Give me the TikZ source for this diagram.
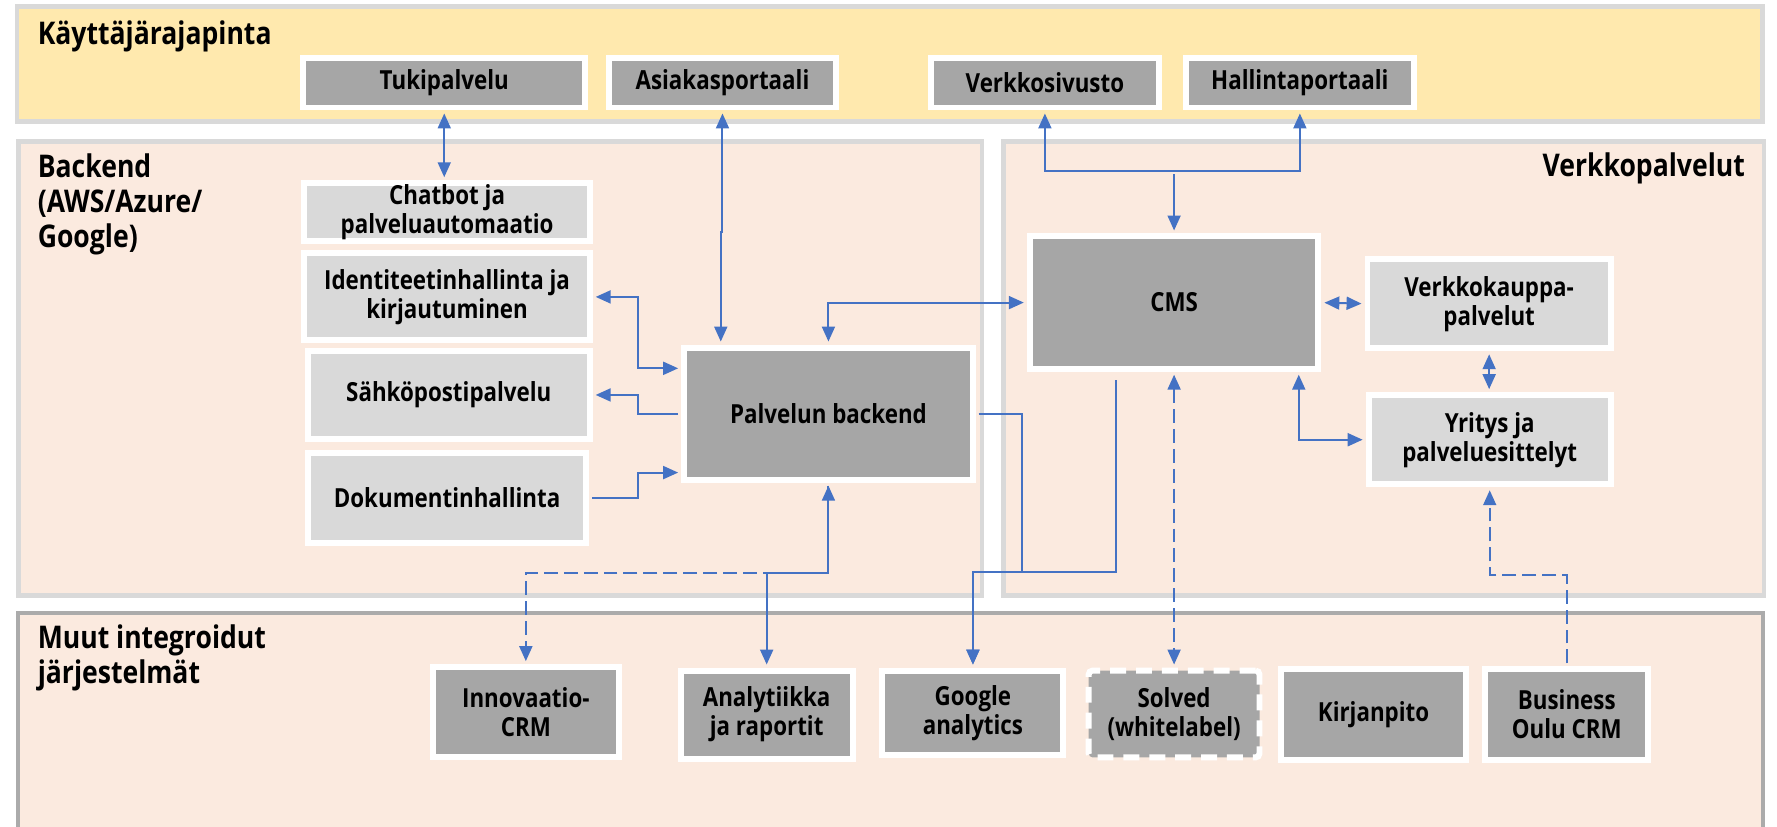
\documentclass[tikz,border=0pt]{standalone}
\usepackage{fontspec}
\setmainfont{Open Sans}[FakeStretch=0.85]
\usetikzlibrary{arrows.meta}
\definecolor{pborder}{HTML}{D9D9D9}
\definecolor{pborderdark}{HTML}{ABABAB}
\definecolor{yel}{HTML}{FFE9AE}
\definecolor{peach}{HTML}{FBEADF}
\definecolor{dgray}{HTML}{A6A6A6}
\definecolor{lgray}{HTML}{D9D9D9}
\definecolor{blu}{HTML}{4472C4}
\newcommand{\boxfont}{\bfseries\fontsize{13.2}{14.6}\selectfont}
\newcommand{\titlefont}{\bfseries\fontsize{15.7}{17.4}\selectfont}
\tikzset{
  panel/.style={draw=pborder, line width=2.5pt},
  box/.style={draw=white, line width=3pt, align=center, font=\boxfont, inner sep=0pt, text=black},
  dbox/.style={box, fill=dgray},
  lbox/.style={box, fill=lgray},
  sz/.style 2 args={minimum width={(#1-5.3)*0.02cm}, minimum height={(#2-5.3)*0.02cm}},
  ttl/.style={font=\titlefont, inner sep=0pt, align=left, text=black},
  conn/.style={draw=blu, line width=1pt, shorten <=1.5pt, shorten >=1.5pt,
    arrows={-}, >={Triangle[length=7.5pt,width=6.5pt]}},
  dconn/.style={conn, dash pattern=on 7pt off 3pt}
}
\begin{document}
\begin{tikzpicture}[x=0.02cm,y=-0.02cm]
\useasboundingbox (0,0) rectangle (1568,729);
% panels
\draw[panel, fill=yel] (15,5.5) rectangle (1555.5,107.5);
\draw[panel, fill=peach] (16,124.5) rectangle (866.5,525.5);
\draw[panel, fill=peach] (885.5,124.5) rectangle (1556.5,525.5);
\draw[draw=pborderdark, line width=2pt, fill=peach] (16,541) rectangle (1556,760);
% titles
\node[ttl, anchor=base west] (t1) at (33,39) {Käyttäjärajapinta};
\node[ttl, anchor=base west] (t2) at (33,218) {Backend\\(AWS/Azure/\\Google)};
\node[ttl, anchor=base east] (t3) at (1540,156) {Verkkopalvelut};
\node[ttl, anchor=base west] (t4) at (33,603) {Muut integroidut\\järjestelmät};
% top boxes
\node[dbox, sz={254}{49}] (tuki) at (392,73) {Tukipalvelu};
\node[dbox, sz={205}{49}] (asiakas) at (637.5,73) {Asiakasportaali};
\node[dbox, sz={206}{49}] (verkko) at (922,73) {Verkkosivusto};
\node[dbox, sz={206}{49}] (hallinta) at (1147,73) {Hallintaportaali};
% backend boxes
\node[lbox, sz={257}{56}] (chatbot) at (394.5,187) {Chatbot ja\\palveluautomaatio};
\node[lbox, sz={257}{82}] (ident) at (394.5,262) {Identiteetinhallinta ja\\kirjautuminen};
\node[lbox, sz={254}{83}] (sahko) at (396,348.5) {Sähköpostipalvelu};
\node[lbox, sz={251}{85}] (doku) at (394.5,439.5) {Dokumentinhallinta};
\node[dbox, sz={260}{122}] (backend) at (731,365) {Palvelun backend};
% verkkopalvelut boxes
\node[dbox, sz={260}{122}] (cms) at (1036,267) {CMS};
\node[lbox, sz={220}{84}] (kauppa) at (1314,268) {Verkkokauppa-\\palvelut};
\node[lbox, sz={219}{84}] (yritys) at (1314.5,388) {Yritys ja\\palveluesittelyt};
% bottom boxes
\node[dbox, sz={170}{85}] (innov) at (464,628.5) {Innovaatio-\\CRM};
\node[dbox, sz={157}{83}] (analyt) at (676.5,630.5) {Analytiikka\\ja raportit};
\node[dbox, sz={165}{80}] (google) at (858.5,629) {Google\\analytics};
\node[dbox, sz={156}{82}, dash pattern=on 8pt off 5pt, rounded corners=2pt] (solved) at (1036,630) {Solved\\(whitelabel)};
\node[dbox, sz={168}{85}] (kirjan) at (1212,630.5) {Kirjanpito};
\node[dbox, sz={149}{85}] (bo) at (1382.5,630.5) {Business\\Oulu CRM};
\coordinate (cmsout) at (985,333);
% connectors
\draw[conn,<->] (tuki.south) -- (tuki.south |- chatbot.north);
\draw[conn,<->] (asiakas.south) -- (637.5,205) -- (636,205) -- (636,0 |- backend.north);
\draw[conn,<->] (ident.east) -- (563,262) |- (backend.west |- 0,325);
\draw[conn,->] (backend.west) -- (563,365) |- (sahko.east);
\draw[conn,->] (doku.east) -- (563,439.5) |- (backend.west |- 0,417);
\draw[conn,<->] (backend.north) |- (cms.west);
\draw[dconn,->] (backend.south) -- (731,506) -| (innov.north);
\draw[conn,<->] (backend.south) -- (731,506) -| (analyt.north);
\draw[conn,->] (backend.east) -- (902,365) -- (902,505) -| (google.north);
\draw[conn,->] (cmsout) -- (985,505) -| (google.north);
\draw[dconn,<->] (cms.south) -- (solved.north);
\draw[conn,<->] (1146,0 |- cms.south) |- (yritys.west);
\draw[conn,<->] (cms.east) -- (kauppa.west);
\draw[conn,<->] (kauppa.south) -- (kauppa.south |- yritys.north);
\draw[dconn,->] (bo.north) -- (1382.5,507) -| (yritys.south);
\draw[conn,<->] (verkko.south) |- (1036,151) -| (hallinta.south);
\draw[conn,->] (cms.north |- 0,151) -- (cms.north);
\end{tikzpicture}
\end{document}
